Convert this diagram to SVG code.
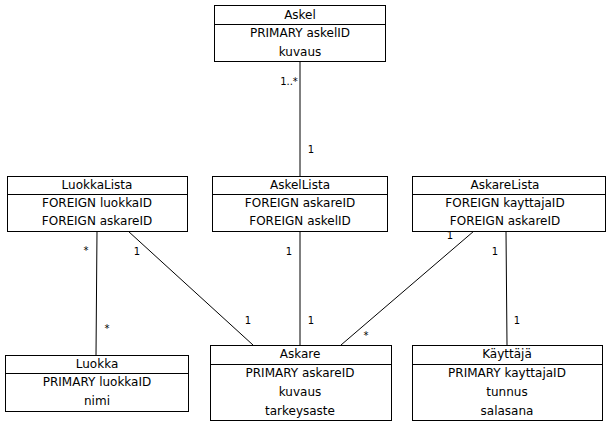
<svg xmlns="http://www.w3.org/2000/svg" width="608" height="428" viewBox="0 0 608 428">
<style>
.box{fill:#fff;stroke:#000;stroke-width:1}
.t{font-family:"DejaVu Sans",sans-serif;font-size:12px;fill:#000;text-anchor:middle}
.l{font-family:"DejaVu Sans",sans-serif;font-size:10px;fill:#000;text-anchor:middle}
.c{stroke:#000;stroke-width:1;fill:none}
</style>
<rect width="608" height="428" fill="#fff"/>
<g id="connectors">
<line class="c" x1="300" y1="61" x2="300" y2="176"/>
<line class="c" x1="97" y1="231" x2="96" y2="355"/>
<line class="c" x1="128" y1="231" x2="253" y2="345"/>
<line class="c" x1="300" y1="231" x2="300" y2="345"/>
<line class="c" x1="474" y1="231" x2="341" y2="345"/>
<line class="c" x1="506" y1="231" x2="507" y2="345"/>
<text class="l" x="289" y="85">1..*</text>
<text class="l" x="311" y="153">1</text>
<text class="l" x="86" y="254">*</text>
<text class="l" x="107" y="332">*</text>
<text class="l" x="137" y="255">1</text>
<text class="l" x="248" y="324">1</text>
<text class="l" x="289" y="255">1</text>
<text class="l" x="311" y="324">1</text>
<text class="l" x="450" y="239">1</text>
<text class="l" x="366" y="339">*</text>
<text class="l" x="495" y="255">1</text>
<text class="l" x="517" y="324">1</text>
</g>
<g id="Askel">
<rect class="box" x="214.5" y="5.5" width="171" height="56"/>
<line class="c" x1="214.5" y1="24.5" x2="385.5" y2="24.5"/>
<text class="t" x="300" y="19">Askel</text>
<text class="t" x="300" y="37">PRIMARY askelID</text>
<text class="t" x="300" y="56">kuvaus</text>
</g>
<g id="LuokkaLista">
<rect class="box" x="7.5" y="176.5" width="180" height="55"/>
<line class="c" x1="7.5" y1="194.5" x2="187.5" y2="194.5"/>
<text class="t" x="97" y="189">LuokkaLista</text>
<text class="t" x="97" y="207">FOREIGN luokkaID</text>
<text class="t" x="97" y="225">FOREIGN askareID</text>
</g>
<g id="AskelLista">
<rect class="box" x="212.5" y="176.5" width="175" height="55"/>
<line class="c" x1="212.5" y1="194.5" x2="387.5" y2="194.5"/>
<text class="t" x="300" y="189">AskelLista</text>
<text class="t" x="300" y="207">FOREIGN askareID</text>
<text class="t" x="300" y="225">FOREIGN askelID</text>
</g>
<g id="AskareLista">
<rect class="box" x="412.5" y="176.5" width="193" height="55"/>
<line class="c" x1="412.5" y1="194.5" x2="605.5" y2="194.5"/>
<text class="t" x="505" y="189">AskareLista</text>
<text class="t" x="505" y="207">FOREIGN kayttajaID</text>
<text class="t" x="505" y="225">FOREIGN askareID</text>
</g>
<g id="Luokka">
<rect class="box" x="5.5" y="355.5" width="183" height="56"/>
<line class="c" x1="5.5" y1="373.5" x2="188.5" y2="373.5"/>
<text class="t" x="97" y="368">Luokka</text>
<text class="t" x="97" y="386">PRIMARY luokkaID</text>
<text class="t" x="97" y="405">nimi</text>
</g>
<g id="Askare">
<rect class="box" x="210.5" y="345.5" width="181" height="75"/>
<line class="c" x1="210.5" y1="364.5" x2="391.5" y2="364.5"/>
<text class="t" x="300" y="358">Askare</text>
<text class="t" x="300" y="377">PRIMARY askareID</text>
<text class="t" x="300" y="396">kuvaus</text>
<text class="t" x="300" y="415">tarkeysaste</text>
</g>
<g id="Kayttaja">
<rect class="box" x="412.5" y="345.5" width="190" height="75"/>
<line class="c" x1="412.5" y1="364.5" x2="602.5" y2="364.5"/>
<text class="t" x="507" y="358">Käyttäjä</text>
<text class="t" x="507" y="377">PRIMARY kayttajaID</text>
<text class="t" x="507" y="396">tunnus</text>
<text class="t" x="507" y="415">salasana</text>
</g>
</svg>
